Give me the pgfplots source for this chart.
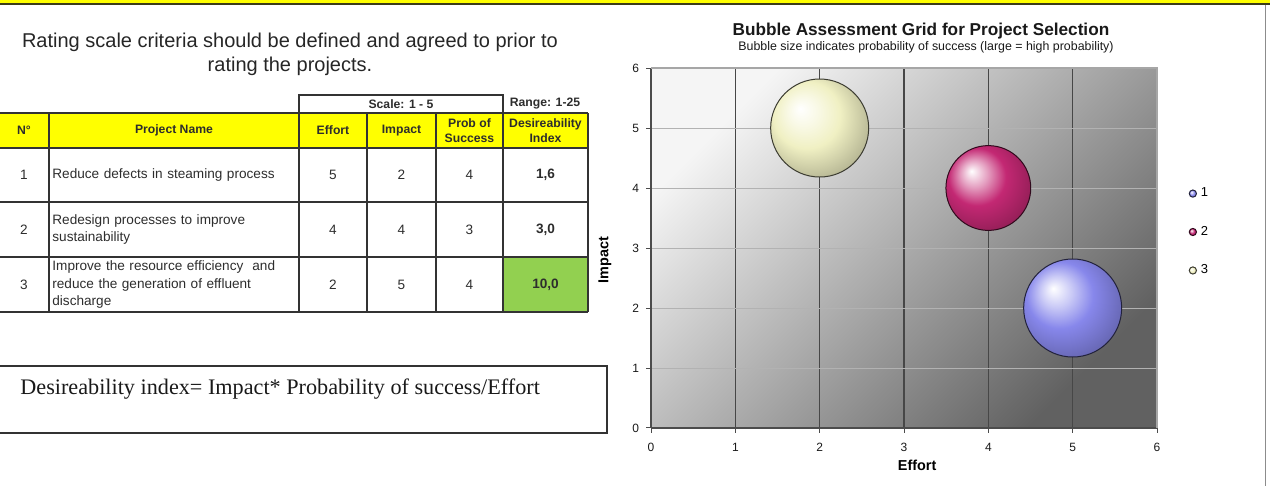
\documentclass[border=0pt]{standalone}
\usepackage{pgfplots}
\pgfplotsset{compat=1.18}
\usepackage{pgfplotstable}
\usepackage{fontspec}
\setmainfont{Liberation Sans}
\newfontfamily\timesfont{Liberation Serif}
\usetikzlibrary{plotmarks}
\definecolor{hdryellow}{RGB}{255,255,0}
\definecolor{cellgreen}{RGB}{146,208,80}
\definecolor{bub1}{RGB}{135,135,235}
\definecolor{bub2}{RGB}{195,40,115}
\definecolor{bub3}{RGB}{240,240,195}
\definecolor{framedark}{RGB}{60,60,25}
\definecolor{txt}{RGB}{45,45,45}

\newcommand\declareball[2]{%
  \pgfdeclareradialshading{#1shade}{\pgfpoint{-10bp}{10bp}}{%
    color(0bp)=(white); color(8bp)=(#2!45!white); color(17bp)=(#2);
    color(25bp)=(#2!86!black); color(35bp)=(#2!68!black); color(50bp)=(#2!45!black)}%
  \pgfdeclareplotmark{#1}{%
    \pgfpathcircle{\pgfpointorigin}{\pgfplotmarksize}\pgfshadepath{#1shade}{0}\pgfusepath{}%
    \pgfpathcircle{\pgfpointorigin}{\pgfplotmarksize}%
    \pgfsetstrokecolor{#2!25!black}\pgfsetlinewidth{0.5pt}\pgfusepath{stroke}}%
}
\declareball{ballA}{bub1}
\declareball{ballB}{bub2}
\declareball{ballC}{bub3}

% project: effort (x), impact (y), probability of success (p)
\pgfplotstableread{
x y p
5 2 4
}\projA
\pgfplotstableread{
x y p
4 4 3
}\projB
\pgfplotstableread{
x y p
2 5 4
}\projC

\begin{document}
\begin{tikzpicture}
\useasboundingbox (0,0) rectangle (635pt,-243pt);
\begin{scope}[x=0.5pt,y=-0.5pt]
  % frame top bar
  \fill[hdryellow] (0,0) rectangle (1270,4);
  \draw[framedark, line width=1pt] (0,4.5) -- (1270,4.5);
  \draw[black!45, line width=0.6pt] (1265.5,5) -- (1265.5,486);
  % heading
  \node[font=\fontsize{10}{12}\selectfont, align=center, text=black!85] at (290,54)
    {Rating scale criteria should be defined and agreed to prior to\\rating the projects.};
  % table fills
  \fill[hdryellow] (0,113) rectangle (588,148);
  \fill[cellgreen] (503,257) rectangle (588,312);
  % table lines
  \begin{scope}[black!80, line width=0.7pt]
    \foreach \yy in {113,148,202,257,312} \draw (0,\yy) -- (588,\yy);
    \foreach \xx in {49,299,367,436,503,588} \draw (\xx,113) -- (\xx,312);
    \draw (299,113) -- (299,95) -- (503,95) -- (503,113);
  \end{scope}
  % header text
  \begin{scope}[every node/.style={font=\bfseries\fontsize{6.1}{7.6}\selectfont, align=center, text=txt}]
    \node at (401,104) {Scale: 1 - 5};
    \node at (545,104) {Range: 1-25};
    \node at (24,130.5) {N°};
    \node at (174,130.5) {Project Name};
    \node at (333,130.5) {Effort};
    \node at (401.5,130.5) {Impact};
    \node at (469.5,130.5) {Prob of\\Success};
    \node at (545.5,130.5) {Desireability\\Index};
  \end{scope}
  % body text
  \begin{scope}[every node/.style={font=\fontsize{6.8}{8.9}\selectfont, text=txt}]
    \node at (24,175) {1};
    \node at (24,229.5) {2};
    \node at (24,284.5) {3};
    \node[anchor=west, text width=122pt, align=left, inner xsep=0pt] at (52,175) {Reduce defects in steaming process};
    \node[anchor=west, text width=122pt, align=left, inner xsep=0pt] at (52,229.5) {Redesign processes to improve\\sustainability};
    \node[anchor=west, text width=122pt, align=left, inner xsep=0pt] at (52,284.5) {Improve the resource efficiency \ and\\reduce the generation of effluent\\discharge};
    \node at (333,175) {5};   \node at (401.5,175) {2};   \node at (469.5,175) {4};
    \node at (333,229.5) {4}; \node at (401.5,229.5) {4}; \node at (469.5,229.5) {3};
    \node at (333,284.5) {2}; \node at (401.5,284.5) {5}; \node at (469.5,284.5) {4};
    \node[font=\bfseries\fontsize{6.8}{8.9}\selectfont] at (545.5,175) {1,6};
    \node[font=\bfseries\fontsize{6.8}{8.9}\selectfont] at (545.5,229.5) {3,0};
    \node[font=\bfseries\fontsize{6.8}{8.9}\selectfont] at (545.5,284.5) {10,0};
  \end{scope}
  % formula box
  \draw[black!80, line width=0.6pt] (-2,366) rectangle (607,433);
  \node[anchor=west, inner xsep=0pt, font=\timesfont\fontsize{11.1}{13}\selectfont, text=black!90] at (20,389)
    {Desireability index= Impact* Probability of success/Effort};
  % chart titles
  \node[font=\bfseries\fontsize{8.6}{10}\selectfont, text=black!90] at (921,31) {Bubble Assessment Grid for Project Selection};
  \node[font=\fontsize{6.2}{7}\selectfont, text=black!90] at (926,47) {Bubble size indicates probability of success (large = high probability)};
\end{scope}

\begin{axis}[
  at={(325.5pt,-214pt)}, anchor=south west,
  scale only axis, width=253pt, height=180pt,
  xmin=0, xmax=6, ymin=0, ymax=6,
  xtick={0,1,2,3,4,5,6}, ytick={0,1,2,3,4,5,6},
  axis x line*=bottom, axis y line*=left,
  axis background/.style={top color=black!4, bottom color=black!62, shading angle=45},
  grid=major,
  x grid style={black!72, line width=0.6pt},
  y grid style={black!30, line width=0.5pt},
  axis line style={black!70, line width=0.6pt},
  tick style={black!70, line width=0.5pt},
  tick align=outside, major tick length=2.5pt,
  /pgf/number format/assume math mode=true,
  ticklabel style={font=\fontsize{6}{7}\selectfont, text=black!90},
  xticklabel style={yshift=-1.5pt},
  xlabel={Effort}, ylabel={Impact},
  xlabel style={at={(axis description cs:0.526,-0.103)}, anchor=center, font=\bfseries\fontsize{7.2}{8}\selectfont},
  ylabel style={at={(axis description cs:-0.091,0.467)}, anchor=center, font=\bfseries\fontsize{7.2}{8}\selectfont},
  clip=false,
  legend style={at={(1.062,0.68)}, anchor=north west, draw=none, fill=none,
    font=\fontsize{6.5}{7}\selectfont, row sep=9.2pt, inner sep=0pt},
  legend cell align=left,
  legend image code/.code={\draw[#1] plot coordinates {(0pt,0pt)};},
]
\draw[black!35, line width=0.6pt] (rel axis cs:0,1) -- (rel axis cs:1,1) -- (rel axis cs:1,0);
% bubble radius grows with probability of success (area ~ p)
\addplot[only marks, mark=ballA, mark size=24.5pt, forget plot] table {\projA};
\addplot[only marks, mark=ballB, mark size=21.2pt, forget plot] table {\projB};
\addplot[only marks, mark=ballC, mark size=24.5pt, forget plot] table {\projC};
\addlegendimage{only marks, mark=ballA, mark size=1.8pt}
\addlegendentry{1}
\addlegendimage{only marks, mark=ballB, mark size=1.8pt}
\addlegendentry{2}
\addlegendimage{only marks, mark=ballC, mark size=1.8pt}
\addlegendentry{3}
\end{axis}
\end{tikzpicture}
\end{document}
